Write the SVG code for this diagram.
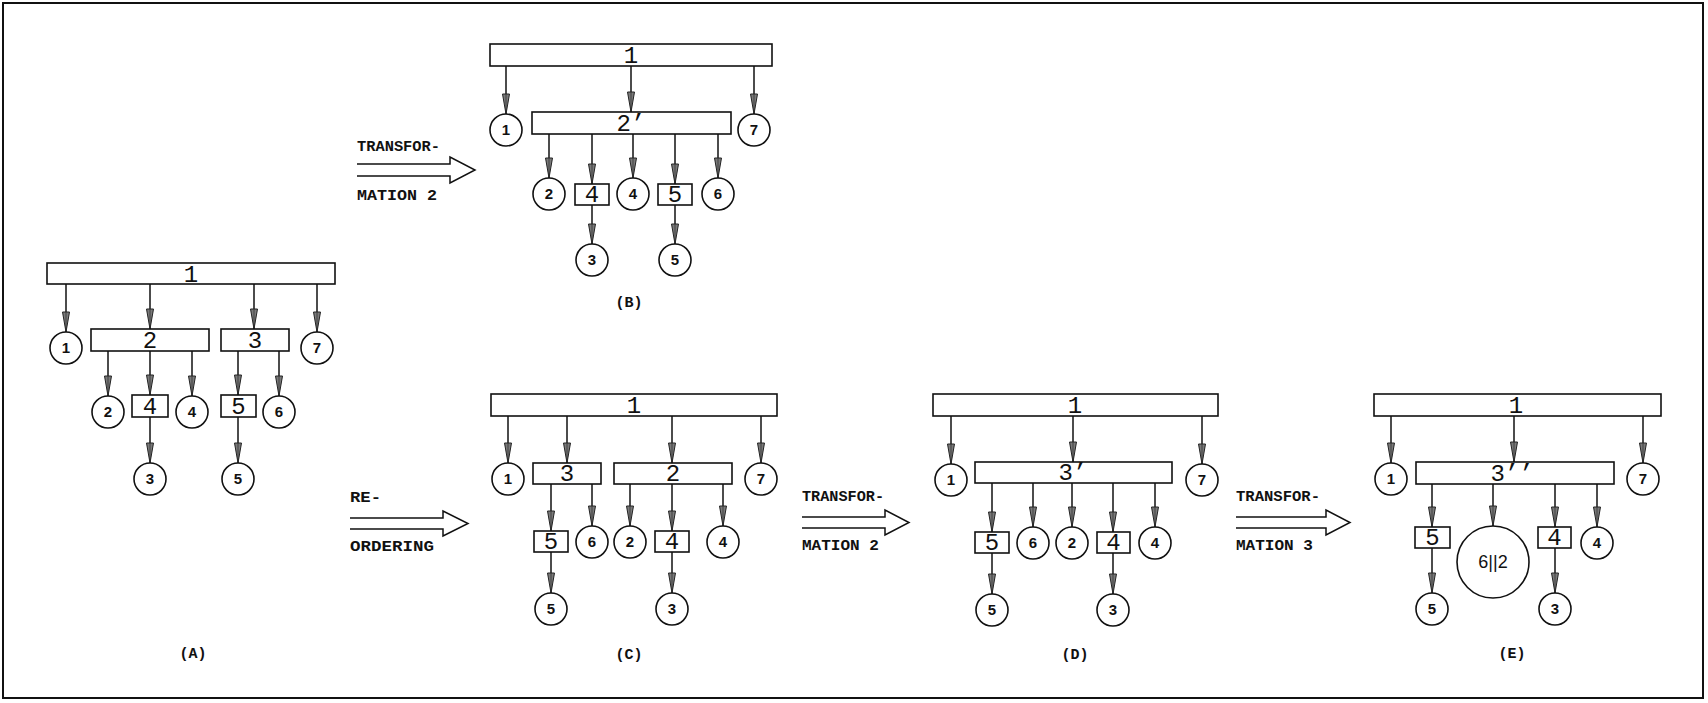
<svg xmlns="http://www.w3.org/2000/svg" width="1708" height="703" viewBox="0 0 1708 703">
  <defs>
    <style>
      .box { fill: #fff; stroke: #111; stroke-width: 1.6; }
      .node { fill: #fff; stroke: #111; stroke-width: 1.6; }
      .conn { stroke: #111; stroke-width: 1.5; fill: none; marker-end: url(#ah); }
      .xf { stroke: #111; stroke-width: 1.5; fill: none; }
      .bl { font-family: "Liberation Mono", "DejaVu Sans Mono", monospace; font-size: 24px; text-anchor: middle; fill: #111; }
      .cl { font-family: "Liberation Sans", Arial, sans-serif; font-weight: bold; font-size: 15px; text-anchor: middle; fill: #111; }
      .tx { font-family: "Liberation Mono", "DejaVu Sans Mono", monospace; font-size: 15px; font-weight: bold; fill: #111; }
      .cap { font-family: "Liberation Mono", "DejaVu Sans Mono", monospace; font-size: 15px; font-weight: bold; text-anchor: middle; fill: #111; }
    </style>
    <marker id="ah" viewBox="-22 -5 24 10" refX="0" refY="0" markerWidth="24" markerHeight="10" markerUnits="userSpaceOnUse" orient="auto">
      <path d="M0,0 L-20,-3.5 L-20,3.5 Z" fill="#7a7a7a" stroke="#222" stroke-width="1"/>
      <path d="M-20,0 L0,0" stroke="#333" stroke-width="0.8"/>
    </marker>
  </defs>

  <rect x="0" y="0" width="1708" height="703" fill="#fff"/>
  <rect x="3" y="3" width="1700" height="695" fill="none" stroke="#111" stroke-width="2"/>

  <!-- connectors -->
  <g id="connectors">
    <!-- (A) -->
    <line class="conn" x1="66" y1="284" x2="66" y2="332"/>
    <line class="conn" x1="150" y1="284" x2="150" y2="329"/>
    <line class="conn" x1="254" y1="284" x2="254" y2="329"/>
    <line class="conn" x1="317" y1="284" x2="317" y2="332"/>
    <line class="conn" x1="108" y1="351" x2="108" y2="396"/>
    <line class="conn" x1="150" y1="351" x2="150" y2="395"/>
    <line class="conn" x1="192" y1="351" x2="192" y2="396"/>
    <line class="conn" x1="238" y1="351" x2="238" y2="395"/>
    <line class="conn" x1="279" y1="351" x2="279" y2="396"/>
    <line class="conn" x1="150" y1="417" x2="150" y2="463"/>
    <line class="conn" x1="238" y1="417" x2="238" y2="463"/>
    <!-- (B) -->
    <line class="conn" x1="506" y1="66" x2="506" y2="114"/>
    <line class="conn" x1="631" y1="66" x2="631" y2="112"/>
    <line class="conn" x1="754" y1="66" x2="754" y2="114"/>
    <line class="conn" x1="549" y1="134" x2="549" y2="178"/>
    <line class="conn" x1="592" y1="134" x2="592" y2="184"/>
    <line class="conn" x1="633" y1="134" x2="633" y2="178"/>
    <line class="conn" x1="675" y1="134" x2="675" y2="184"/>
    <line class="conn" x1="718" y1="134" x2="718" y2="178"/>
    <line class="conn" x1="592" y1="205" x2="592" y2="244"/>
    <line class="conn" x1="675" y1="205" x2="675" y2="244"/>
    <!-- (C) -->
    <line class="conn" x1="508" y1="416" x2="508" y2="463"/>
    <line class="conn" x1="567" y1="416" x2="567" y2="463"/>
    <line class="conn" x1="672" y1="416" x2="672" y2="463"/>
    <line class="conn" x1="761" y1="416" x2="761" y2="463"/>
    <line class="conn" x1="551" y1="484" x2="551" y2="531"/>
    <line class="conn" x1="592" y1="484" x2="592" y2="526"/>
    <line class="conn" x1="630" y1="484" x2="630" y2="526"/>
    <line class="conn" x1="672" y1="484" x2="672" y2="531"/>
    <line class="conn" x1="723" y1="484" x2="723" y2="526"/>
    <line class="conn" x1="551" y1="552" x2="551" y2="593"/>
    <line class="conn" x1="672" y1="552" x2="672" y2="593"/>
    <!-- (D) -->
    <line class="conn" x1="951" y1="416" x2="951" y2="464"/>
    <line class="conn" x1="1073" y1="416" x2="1073" y2="462"/>
    <line class="conn" x1="1202" y1="416" x2="1202" y2="464"/>
    <line class="conn" x1="992" y1="483" x2="992" y2="532"/>
    <line class="conn" x1="1033" y1="483" x2="1033" y2="527"/>
    <line class="conn" x1="1072" y1="483" x2="1072" y2="527"/>
    <line class="conn" x1="1113" y1="483" x2="1113" y2="532"/>
    <line class="conn" x1="1155" y1="483" x2="1155" y2="527"/>
    <line class="conn" x1="992" y1="553" x2="992" y2="594"/>
    <line class="conn" x1="1113" y1="553" x2="1113" y2="594"/>
    <!-- (E) -->
    <line class="conn" x1="1391" y1="416" x2="1391" y2="463"/>
    <line class="conn" x1="1514" y1="416" x2="1514" y2="462"/>
    <line class="conn" x1="1643" y1="416" x2="1643" y2="463"/>
    <line class="conn" x1="1432" y1="484" x2="1432" y2="527"/>
    <line class="conn" x1="1493" y1="484" x2="1493" y2="526"/>
    <line class="conn" x1="1555" y1="484" x2="1555" y2="527"/>
    <line class="conn" x1="1597" y1="484" x2="1597" y2="527"/>
    <line class="conn" x1="1432" y1="548" x2="1432" y2="593"/>
    <line class="conn" x1="1555" y1="548" x2="1555" y2="593"/>
  </g>

  <!-- hollow transformation arrows between stages -->
  <g id="step-arrows">
    <g id="arrow-ab">
      <path class="xf" d="M357,164 H450 V157 L475,170 L450,183 V176 H357"/>
      <text class="tx" x="357" y="151" textLength="83" lengthAdjust="spacingAndGlyphs">TRANSFOR-</text>
      <text class="tx" x="357" y="200" textLength="80" lengthAdjust="spacingAndGlyphs">MATION 2</text>
    </g>
    <g id="arrow-ac">
      <path class="xf" d="M350,518 H443 V511 L468,523.5 L443,536 V529 H350"/>
      <text class="tx" x="350" y="502" textLength="31" lengthAdjust="spacingAndGlyphs">RE-</text>
      <text class="tx" x="350" y="551" textLength="84" lengthAdjust="spacingAndGlyphs">ORDERING</text>
    </g>
    <g id="arrow-cd">
      <path class="xf" d="M802,517 H885 V510 L909,522.5 L885,535 V528 H802"/>
      <text class="tx" x="802" y="501" textLength="82" lengthAdjust="spacingAndGlyphs">TRANSFOR-</text>
      <text class="tx" x="802" y="550" textLength="77" lengthAdjust="spacingAndGlyphs">MATION 2</text>
    </g>
    <g id="arrow-de">
      <path class="xf" d="M1236,517 H1326 V510 L1350,522.5 L1326,535 V528 H1236"/>
      <text class="tx" x="1236" y="501" textLength="84" lengthAdjust="spacingAndGlyphs">TRANSFOR-</text>
      <text class="tx" x="1236" y="550" textLength="77" lengthAdjust="spacingAndGlyphs">MATION 3</text>
    </g>
  </g>

  <!-- (A) original tree -->
  <g id="tree-a">
    <g id="a-box1"><rect class="box" x="47" y="263" width="288" height="21"/><text class="bl" x="191" y="282">1</text></g>
    <g id="a-c1"><circle class="node" cx="66" cy="348" r="16"/><text class="cl" x="66" y="353">1</text></g>
    <g id="a-box2"><rect class="box" x="91" y="329" width="118" height="22"/><text class="bl" x="150" y="348">2</text></g>
    <g id="a-box3"><rect class="box" x="221" y="329" width="68" height="22"/><text class="bl" x="255" y="348">3</text></g>
    <g id="a-c7"><circle class="node" cx="317" cy="348" r="16"/><text class="cl" x="317" y="353">7</text></g>
    <g id="a-c2"><circle class="node" cx="108" cy="412" r="16"/><text class="cl" x="108" y="417">2</text></g>
    <g id="a-box4"><rect class="box" x="132" y="395" width="36" height="22"/><text class="bl" x="150" y="414">4</text></g>
    <g id="a-c4"><circle class="node" cx="192" cy="412" r="16"/><text class="cl" x="192" y="417">4</text></g>
    <g id="a-box5"><rect class="box" x="221" y="395" width="35" height="22"/><text class="bl" x="238.5" y="414">5</text></g>
    <g id="a-c6"><circle class="node" cx="279" cy="412" r="16"/><text class="cl" x="279" y="417">6</text></g>
    <g id="a-c3"><circle class="node" cx="150" cy="479" r="16"/><text class="cl" x="150" y="484">3</text></g>
    <g id="a-c5"><circle class="node" cx="238" cy="479" r="16"/><text class="cl" x="238" y="484">5</text></g>
    <text class="cap" x="193" y="658">(A)</text>
  </g>

  <!-- (B) -->
  <g id="tree-b">
    <g id="b-box1"><rect class="box" x="490" y="44" width="282" height="22"/><text class="bl" x="631" y="63">1</text></g>
    <g id="b-c1"><circle class="node" cx="506" cy="130" r="16"/><text class="cl" x="506" y="135">1</text></g>
    <g id="b-box2p"><rect class="box" x="532" y="112" width="199" height="22"/><text class="bl" x="631" y="131">2’</text></g>
    <g id="b-c7"><circle class="node" cx="754" cy="130" r="16"/><text class="cl" x="754" y="135">7</text></g>
    <g id="b-c2"><circle class="node" cx="549" cy="194" r="16"/><text class="cl" x="549" y="199">2</text></g>
    <g id="b-box4"><rect class="box" x="575" y="184" width="34" height="21"/><text class="bl" x="592" y="202">4</text></g>
    <g id="b-c4"><circle class="node" cx="633" cy="194" r="16"/><text class="cl" x="633" y="199">4</text></g>
    <g id="b-box5"><rect class="box" x="658" y="184" width="34" height="21"/><text class="bl" x="675" y="202">5</text></g>
    <g id="b-c6"><circle class="node" cx="718" cy="194" r="16"/><text class="cl" x="718" y="199">6</text></g>
    <g id="b-c3"><circle class="node" cx="592" cy="260" r="16"/><text class="cl" x="592" y="265">3</text></g>
    <g id="b-c5"><circle class="node" cx="675" cy="260" r="16"/><text class="cl" x="675" y="265">5</text></g>
    <text class="cap" x="629" y="307">(B)</text>
  </g>

  <!-- (C) -->
  <g id="tree-c">
    <g id="c-box1"><rect class="box" x="491" y="394" width="286" height="22"/><text class="bl" x="634" y="413">1</text></g>
    <g id="c-c1"><circle class="node" cx="508" cy="479" r="16"/><text class="cl" x="508" y="484">1</text></g>
    <g id="c-box3"><rect class="box" x="533" y="463" width="68" height="21"/><text class="bl" x="567" y="481">3</text></g>
    <g id="c-box2"><rect class="box" x="614" y="463" width="118" height="21"/><text class="bl" x="673" y="481">2</text></g>
    <g id="c-c7"><circle class="node" cx="761" cy="479" r="16"/><text class="cl" x="761" y="484">7</text></g>
    <g id="c-box5"><rect class="box" x="534" y="531" width="34" height="21"/><text class="bl" x="551" y="549">5</text></g>
    <g id="c-c6"><circle class="node" cx="592" cy="542" r="16"/><text class="cl" x="592" y="547">6</text></g>
    <g id="c-c2"><circle class="node" cx="630" cy="542" r="16"/><text class="cl" x="630" y="547">2</text></g>
    <g id="c-box4"><rect class="box" x="655" y="531" width="34" height="21"/><text class="bl" x="672" y="549">4</text></g>
    <g id="c-c4"><circle class="node" cx="723" cy="542" r="16"/><text class="cl" x="723" y="547">4</text></g>
    <g id="c-c5"><circle class="node" cx="551" cy="609" r="16"/><text class="cl" x="551" y="614">5</text></g>
    <g id="c-c3"><circle class="node" cx="672" cy="609" r="16"/><text class="cl" x="672" y="614">3</text></g>
    <text class="cap" x="629" y="659">(C)</text>
  </g>

  <!-- (D) -->
  <g id="tree-d">
    <g id="d-box1"><rect class="box" x="933" y="394" width="285" height="22"/><text class="bl" x="1075" y="413">1</text></g>
    <g id="d-c1"><circle class="node" cx="951" cy="480" r="16"/><text class="cl" x="951" y="485">1</text></g>
    <g id="d-box3p"><rect class="box" x="975" y="462" width="197" height="21"/><text class="bl" x="1073" y="480">3’</text></g>
    <g id="d-c7"><circle class="node" cx="1202" cy="480" r="16"/><text class="cl" x="1202" y="485">7</text></g>
    <g id="d-box5"><rect class="box" x="975" y="532" width="34" height="21"/><text class="bl" x="992" y="550">5</text></g>
    <g id="d-c6"><circle class="node" cx="1033" cy="543" r="16"/><text class="cl" x="1033" y="548">6</text></g>
    <g id="d-c2"><circle class="node" cx="1072" cy="543" r="16"/><text class="cl" x="1072" y="548">2</text></g>
    <g id="d-box4"><rect class="box" x="1097" y="532" width="33" height="21"/><text class="bl" x="1113.5" y="550">4</text></g>
    <g id="d-c4"><circle class="node" cx="1155" cy="543" r="16"/><text class="cl" x="1155" y="548">4</text></g>
    <g id="d-c5"><circle class="node" cx="992" cy="610" r="16"/><text class="cl" x="992" y="615">5</text></g>
    <g id="d-c3"><circle class="node" cx="1113" cy="610" r="16"/><text class="cl" x="1113" y="615">3</text></g>
    <text class="cap" x="1075" y="659">(D)</text>
  </g>

  <!-- (E) -->
  <g id="tree-e">
    <g id="e-box1"><rect class="box" x="1374" y="394" width="287" height="22"/><text class="bl" x="1516" y="413">1</text></g>
    <g id="e-c1"><circle class="node" cx="1391" cy="479" r="16"/><text class="cl" x="1391" y="484">1</text></g>
    <g id="e-box3pp"><rect class="box" x="1416" y="462" width="198" height="22"/><text class="bl" x="1512" y="481">3’’</text></g>
    <g id="e-c7"><circle class="node" cx="1643" cy="479" r="16"/><text class="cl" x="1643" y="484">7</text></g>
    <g id="e-box5"><rect class="box" x="1415" y="527" width="35" height="21"/><text class="bl" x="1432.5" y="545">5</text></g>
    <g id="e-c62"><circle class="node" cx="1493" cy="562" r="36"/><text class="cl" x="1493" y="568" style="font-size:18px;font-weight:normal">6||2</text></g>
    <g id="e-box4"><rect class="box" x="1538" y="527" width="33" height="21"/><text class="bl" x="1554.5" y="545">4</text></g>
    <g id="e-c4"><circle class="node" cx="1597" cy="543" r="16"/><text class="cl" x="1597" y="548">4</text></g>
    <g id="e-c5"><circle class="node" cx="1432" cy="609" r="16"/><text class="cl" x="1432" y="614">5</text></g>
    <g id="e-c3"><circle class="node" cx="1555" cy="609" r="16"/><text class="cl" x="1555" y="614">3</text></g>
    <text class="cap" x="1512" y="658">(E)</text>
  </g>
</svg>
